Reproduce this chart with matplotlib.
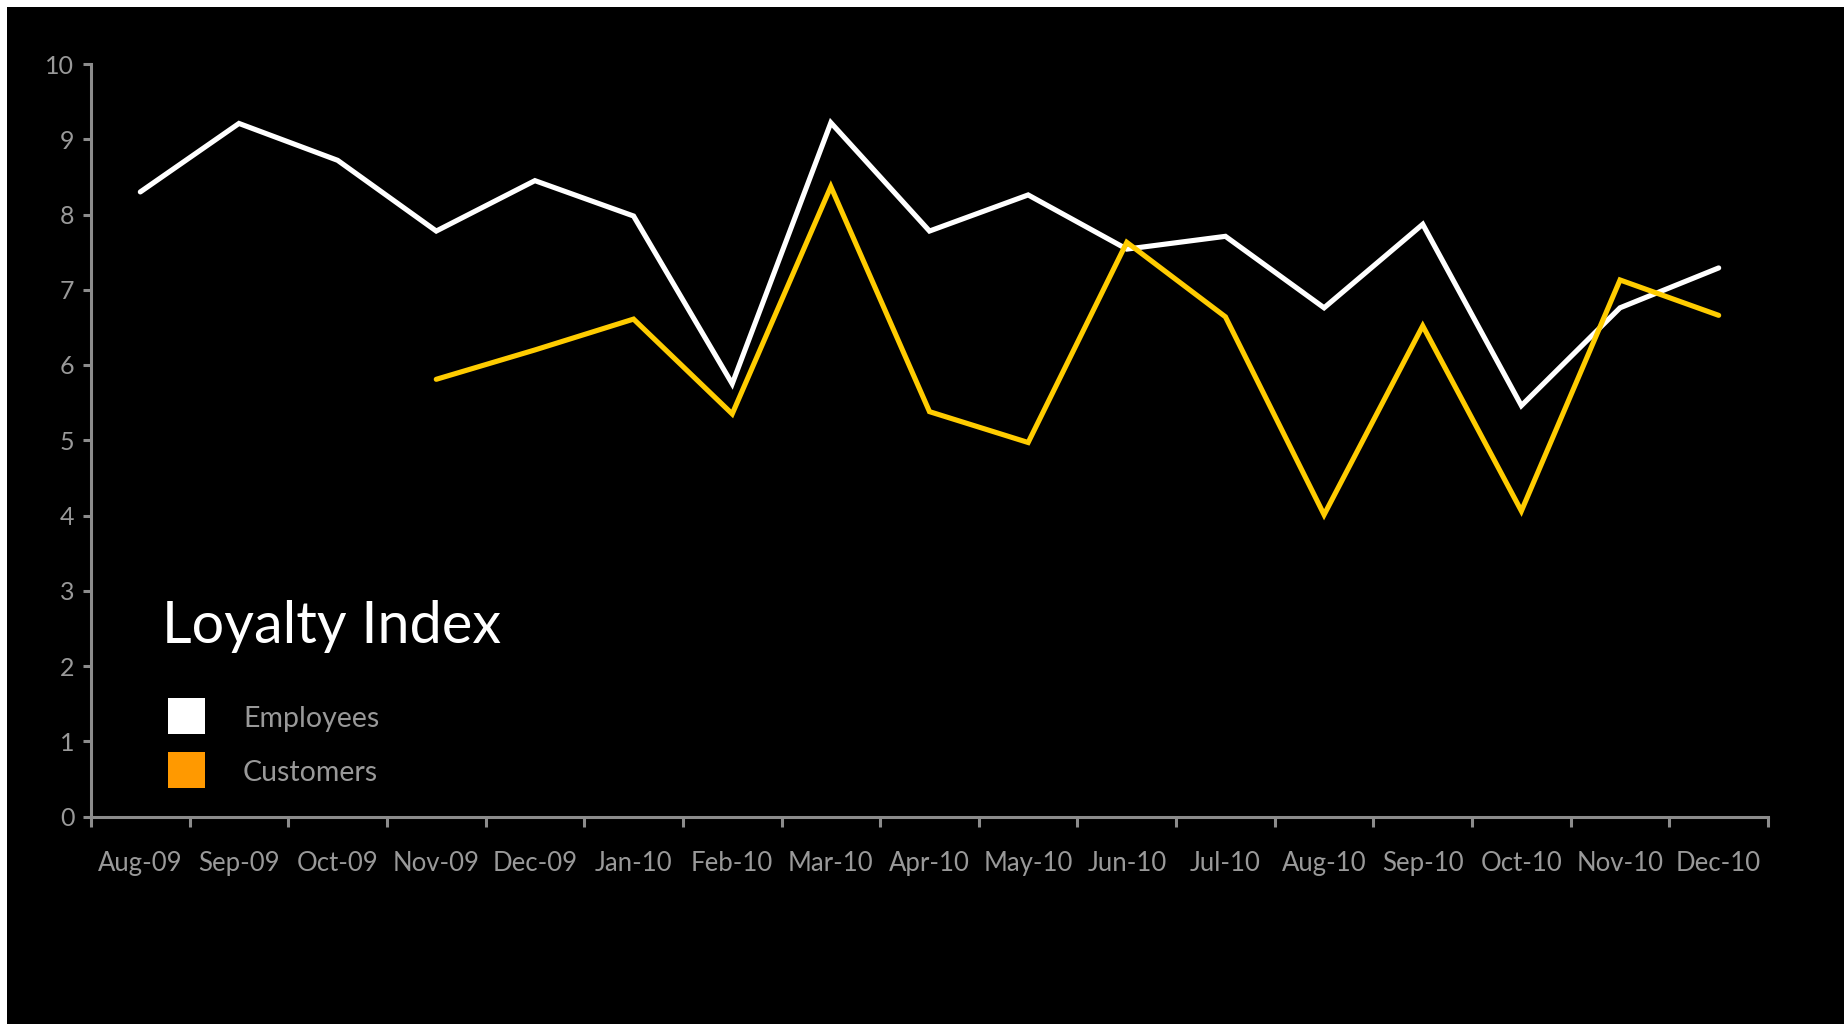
import matplotlib
matplotlib.use("Agg")
import matplotlib.pyplot as plt
from matplotlib.patches import Rectangle

plt.rcParams['font.family'] = ['Lato', 'DejaVu Sans']

months = ["Aug-09", "Sep-09", "Oct-09", "Nov-09", "Dec-09", "Jan-10", "Feb-10",
          "Mar-10", "Apr-10", "May-10", "Jun-10", "Jul-10", "Aug-10", "Sep-10",
          "Oct-10", "Nov-10", "Dec-10"]
employees = [8.30, 9.21, 8.72, 7.78, 8.45, 7.98, 5.75, 9.22, 7.78, 8.26,
             7.54, 7.71, 6.76, 7.87, 5.46, 6.76, 7.29]
# customers start in Nov-09
customers = [None, None, None, 5.81, 6.20, 6.61, 5.35, 8.37, 5.38, 4.97,
             7.63, 6.64, 4.01, 6.52, 4.06, 7.13, 6.66]

W, H = 1846, 1024
AXIS_GRAY = "#8c8c8c"
TEXT_GRAY = "#999999"
LINE_YELLOW = "#ffcc00"
LEGEND_ORANGE = "#ff9900"

fig = plt.figure(figsize=(W / 100, H / 100), dpi=100, facecolor="white")
# black slide background with a thin white frame top/left/right
fig.add_artist(Rectangle((7 / W, 0), (1844 - 7) / W, 1 - 7 / H,
                         transform=fig.transFigure, facecolor="black",
                         edgecolor="none", zorder=0))

ax = fig.add_axes([91 / W, 1 - 816.5 / H, (1768 - 91) / W, (816.5 - 64) / H])
ax.set_facecolor("none")

xs = [i + 0.5 for i in range(len(months))]
ax.plot(xs, employees, color="white", lw=3.7, solid_joinstyle="miter",
        solid_capstyle="round", zorder=3)
cx = [x for x, v in zip(xs, customers) if v is not None]
cy = [v for v in customers if v is not None]
ax.plot(cx, cy, color=LINE_YELLOW, lw=3.7, solid_joinstyle="miter",
        solid_capstyle="round", zorder=4)

ax.set_xlim(0, len(months))
ax.set_ylim(0, 10)

for side in ["top", "right"]:
    ax.spines[side].set_visible(False)
for side in ["left", "bottom"]:
    ax.spines[side].set_color(AXIS_GRAY)
    ax.spines[side].set_linewidth(2.2)

ax.set_yticks(range(0, 11))
ax.tick_params(axis="y", colors=AXIS_GRAY, labelcolor=TEXT_GRAY, length=6,
               width=2.2, labelsize=18, pad=6)

# ticks on category edges, labels at category centres
ax.set_xticks(range(0, len(months) + 1))
ax.set_xticklabels([])
ax.set_xticks(xs, minor=True)
ax.set_xticklabels(months, minor=True)
ax.tick_params(axis="x", which="major", colors=AXIS_GRAY, length=7, width=2.2)
ax.tick_params(axis="x", which="minor", length=0, labelcolor=TEXT_GRAY,
               labelsize=18.5, pad=24.5)

# title and legend block
fig.text(162 / W, 1 - 643 / H, "Loyalty Index", color="white", fontsize=41.5,
         va="baseline", ha="left")
legend_items = [("Employees", "white", 698), ("Customers", LEGEND_ORANGE, 752)]
for label, col, top in legend_items:
    fig.add_artist(Rectangle((168 / W, 1 - (top + 36) / H), 37 / W, 36 / H,
                             transform=fig.transFigure, facecolor=col,
                             edgecolor="none", zorder=5))
    fig.text(243 / W, 1 - (top + 29) / H, label, color=TEXT_GRAY, fontsize=20.5,
             va="baseline", ha="left")

fig.savefig("out.png", dpi=100, facecolor=fig.get_facecolor())
